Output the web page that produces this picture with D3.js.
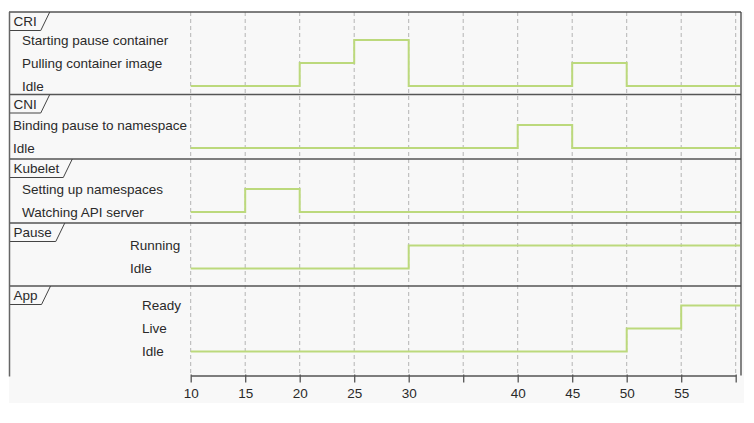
<!DOCTYPE html>
<html>
<head>
<meta charset="utf-8">
<script src="https://cdn.jsdelivr.net/npm/d3@7"></script>
<style>
  html, body { margin: 0; padding: 0; background: #ffffff; }
  svg { display: block; }
  text { font-family: "Liberation Sans", Arial, sans-serif; font-size: 13.5px; fill: #2a2a2a; }
</style>
</head>
<body>
<svg id="chart" width="754" height="423"></svg>
<script>
// ---------- DATA ----------
const lanes = ["CRI", "CNI", "Kubelet", "Pause", "App"];

const criStates = ["Starting pause container", "Pulling container image", "Idle"];
const cniStates = ["Binding pause to namespace", "Idle"];
const kubeletStates = ["Setting up namespaces", "Watching API server"];
const pauseStates = ["Running", "Idle"];
const appStates = ["Ready", "Live", "Idle"];

const criChanges = [[10, "Idle"], [20, "Pulling container image"], [25, "Starting pause container"], [30, "Idle"], [45, "Pulling container image"], [50, "Idle"]];
const cniChanges = [[10, "Idle"], [40, "Binding pause to namespace"], [45, "Idle"]];
const kubeletChanges = [[10, "Watching API server"], [15, "Setting up namespaces"], [20, "Watching API server"]];
const pauseChanges = [[10, "Idle"], [30, "Running"]];
const appChanges = [[10, "Idle"], [50, "Live"], [55, "Ready"]];

const tickValues = [10, 15, 20, 25, 30, 35, 40, 45, 50, 55, 60];
const tickLabels = ["10", "15", "20", "25", "30", "", "40", "45", "50", "55", ""];
const timeDomain = [10, 60];

// ---------- LAYOUT ----------
const layout = {
  left: 9, right: 741, top: 12, axisY: 375.5, bgBottom: 403,
  plotX0: 190.7, plotX1: 735.7, stateStep: 23,
  lanes: [
    { top: 12,    firstY: 40,    labelX: 22 },
    { top: 94.5,  firstY: 125,   labelX: 13 },
    { top: 159,   firstY: 189,   labelX: 22 },
    { top: 223,   firstY: 245.5, labelX: 130 },
    { top: 286,   firstY: 305.5, labelX: 142 }
  ]
};
const laneStates = [criStates, cniStates, kubeletStates, pauseStates, appStates];
const laneChanges = [criChanges, cniChanges, kubeletChanges, pauseChanges, appChanges];

const svg = d3.select("#chart");
const x = d3.scaleLinear().domain(timeDomain).range([layout.plotX0, layout.plotX1]);

// background
svg.append("rect")
  .attr("x", layout.left).attr("y", layout.top)
  .attr("width", 744 - layout.left).attr("height", layout.bgBottom - layout.top)
  .attr("fill", "#f8f8f8");

// grid lines
svg.append("g").selectAll("line").data(tickValues).join("line")
  .attr("x1", d => x(d)).attr("x2", d => x(d))
  .attr("y1", layout.top).attr("y2", layout.axisY)
  .attr("stroke", "#b4b4b4").attr("stroke-width", 1)
  .attr("stroke-dasharray", "4,3");

// signals
const lineGen = d3.line().curve(d3.curveStepAfter);
lanes.forEach((name, i) => {
  const L = layout.lanes[i];
  const states = laneStates[i];
  const y = d3.scalePoint().domain(states)
    .range([L.firstY, L.firstY + layout.stateStep * (states.length - 1)]);

  // state labels
  svg.append("g").selectAll("text").data(states).join("text")
    .attr("x", L.labelX).attr("y", d => y(d))
    .attr("dy", "0.35em")
    .text(d => d);

  // signal path
  const ch = laneChanges[i];
  const pts = ch.map(c => [x(c[0]), y(c[1])]);
  pts.push([layout.right - 1, y(ch[ch.length - 1][1])]);
  svg.append("path")
    .attr("d", lineGen(pts))
    .attr("fill", "none")
    .attr("stroke", "#bcd97c")
    .attr("stroke-width", 2);
});

// separators
const sepYs = layout.lanes.map(l => l.top);
svg.append("g").selectAll("line").data(sepYs).join("line")
  .attr("x1", layout.left).attr("x2", layout.right)
  .attr("y1", d => d).attr("y2", d => d)
  .attr("stroke", "#555").attr("stroke-width", 1.3);

// lane title boxes
lanes.forEach((name, i) => {
  const L = layout.lanes[i];
  const g = svg.append("g");
  const t = g.append("text")
    .attr("x", layout.left + 4.5).attr("y", L.top + 9.5)
    .attr("dy", "0.35em")
    .text(name);
  const w = t.node().getComputedTextLength();
  const xEnd = layout.left + 4.5 + w;
  const h = 18.5;
  g.append("path")
    .attr("d", `M${layout.left},${L.top + h} L${xEnd + 4},${L.top + h} L${xEnd + 13},${L.top}`)
    .attr("fill", "none").attr("stroke", "#444").attr("stroke-width", 1);
});

// left & right borders
svg.append("line")
  .attr("x1", layout.left + 0.5).attr("x2", layout.left + 0.5)
  .attr("y1", layout.top).attr("y2", layout.axisY + 1)
  .attr("stroke", "#666").attr("stroke-width", 1.5);
svg.append("line")
  .attr("x1", layout.right).attr("x2", layout.right)
  .attr("y1", layout.top).attr("y2", layout.axisY)
  .attr("stroke", "#444").attr("stroke-width", 1.3);

// axis
const axis = d3.axisBottom(x)
  .tickValues(tickValues)
  .tickFormat((d, i) => tickLabels[i])
  .tickSize(7)
  .tickSizeOuter(0)
  .tickPadding(6);
const ag = svg.append("g").attr("transform", `translate(0,${layout.axisY})`).call(axis);
ag.select(".domain").attr("stroke", "#555").attr("stroke-width", 1.3);
ag.selectAll(".tick line").attr("stroke", "#555").attr("stroke-width", 1.3)
  .attr("y1", -1);
ag.selectAll(".tick text")
  .style("font-family", '"Liberation Sans", Arial, sans-serif')
  .style("font-size", "13.5px").attr("fill", "#2a2a2a");
</script>
</body>
</html>
